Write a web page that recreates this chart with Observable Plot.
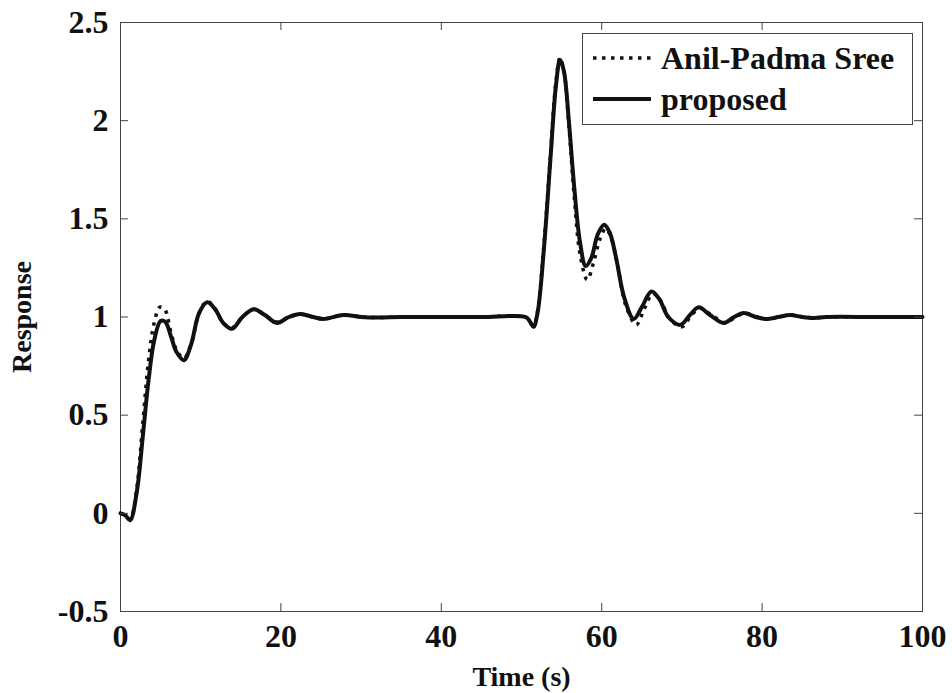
<!DOCTYPE html>
<html>
<head>
<meta charset="utf-8">
<script src="https://cdn.jsdelivr.net/npm/d3@7"></script>
<script src="https://cdn.jsdelivr.net/npm/@observablehq/plot@0.6"></script>
<style>
  html, body { margin: 0; padding: 0; background: #fff; }
  #chart { width: 952px; height: 693px; }
</style>
</head>
<body>
<div id="chart"></div>
<script>
// Step response: time samples (s) and response values for each controller
const proposedT = [0, 0.6, 1.2, 2.0, 2.8, 3.5, 4.2, 5.0, 5.6, 6.3, 7.0, 7.9, 8.8, 9.8, 10.8, 11.8, 12.8, 13.9, 15.2, 16.6, 18.0, 19.5, 21.0, 22.4, 24.0, 25.3, 27.8, 30.0, 32.0, 35.0, 40.0, 45.0,
  50.5, 51.0, 51.5, 52.0, 52.8, 53.6, 54.3, 54.8, 55.3, 55.9, 56.6, 57.3, 58.0, 58.7, 59.5, 60.3, 61.0, 61.8, 62.8, 64.0, 65.0, 66.2, 67.2, 68.3, 69.8, 71.0, 72.1, 73.5, 75.2, 76.5, 77.7, 79.2, 80.6, 82.0, 83.5, 85.0, 86.5, 88.0, 94.0, 100];
const proposedY = [0, -0.01, -0.035, 0.1, 0.4, 0.68, 0.88, 0.98, 0.975, 0.9, 0.82, 0.78, 0.86, 1.02, 1.075, 1.04, 0.97, 0.94, 1.0, 1.04, 1.01, 0.97, 1.0, 1.015, 1.0, 0.99, 1.01, 1.0, 0.997, 1.0, 1.0, 1.0,
  1.0, 0.98, 0.95, 1.02, 1.35, 1.8, 2.18, 2.31, 2.25, 2.0, 1.65, 1.38, 1.26, 1.3, 1.42, 1.47, 1.43, 1.3, 1.1, 0.99, 1.05, 1.13, 1.09, 1.0, 0.96, 1.01, 1.05, 1.01, 0.97, 1.0, 1.02, 1.0, 0.99, 1.0, 1.01, 1.0, 0.995, 1.0, 1.0, 1.0];

const anilT = [0, 0.6, 1.2, 2.0, 2.8, 3.5, 4.2, 4.9, 5.5, 6.3, 7.0, 7.9, 8.8, 9.8, 10.8, 11.8, 12.8, 13.9, 15.2, 16.6, 18.0, 19.5, 21.0, 22.4, 24.0, 25.3, 27.8, 30.0, 32.0, 35.0, 40.0, 45.0,
  50.5, 51.0, 51.5, 52.0, 52.8, 53.6, 54.3, 54.8, 55.3, 55.9, 56.6, 57.3, 58.2, 59.0, 59.8, 60.5, 61.2, 62.0, 63.0, 64.3, 65.3, 66.4, 67.4, 68.5, 70.0, 71.2, 72.3, 73.7, 75.4, 76.7, 77.9, 79.4, 80.8, 82.2, 83.7, 85.2, 86.7, 88.0, 94.0, 100];
const anilY = [0, -0.01, -0.03, 0.12, 0.47, 0.78, 0.97, 1.05, 1.04, 0.92, 0.83, 0.79, 0.86, 1.02, 1.08, 1.04, 0.97, 0.945, 1.0, 1.04, 1.01, 0.975, 1.0, 1.015, 1.0, 0.99, 1.01, 1.0, 0.997, 1.0, 1.0, 1.0,
  1.0, 0.98, 0.955, 1.03, 1.37, 1.82, 2.2, 2.32, 2.25, 1.98, 1.6, 1.32, 1.19, 1.28, 1.4, 1.45, 1.4, 1.26, 1.06, 0.96, 1.04, 1.12, 1.08, 0.99, 0.95, 1.01, 1.045, 1.01, 0.97, 1.0, 1.02, 1.0, 0.99, 1.0, 1.01, 1.0, 0.995, 1.0, 1.0, 1.0];

const xTicks = [0, 20, 40, 60, 80, 100];
const yTicks = [-0.5, 0, 0.5, 1, 1.5, 2, 2.5];
const seriesNames = ["Anil-Padma Sree", "proposed"];

const proposed = proposedT.map((t, i) => ({t, v: proposedY[i]}));
const anil = anilT.map((t, i) => ({t, v: anilY[i]}));

const W = 952, H = 693;
const mL = 120, mR = 30, mT = 22, mB = 82;
const frameW = W - mL - mR, frameH = H - mT - mB;
const tickLen = 8;
const ink = "#111";
const axisInk = "#444";
const font = "'Liberation Serif', 'Times New Roman', serif";

const chart = Plot.plot({
  width: W,
  height: H,
  marginLeft: mL,
  marginRight: mR,
  marginTop: mT,
  marginBottom: mB,
  style: {fontFamily: font, fontWeight: "bold", color: ink, background: "white"},
  x: {domain: [0, 100]},
  y: {domain: [-0.5, 2.5]},
  marks: [
    Plot.frame({stroke: axisInk, strokeWidth: 1}),
    Plot.line(anil, {x: "t", y: "v", stroke: ink, strokeWidth: 3.5, strokeDasharray: "3.5,5.5", strokeLinecap: "butt", curve: "catmull-rom"}),
    Plot.line(proposed, {x: "t", y: "v", stroke: ink, strokeWidth: 4, curve: "catmull-rom"}),
    // inward ticks on all four sides
    Plot.ruleX(xTicks, {x: d => d, insetTop: frameH - tickLen, stroke: axisInk}),
    Plot.ruleX(xTicks, {x: d => d, insetBottom: frameH - tickLen, stroke: axisInk}),
    Plot.ruleY(yTicks, {y: d => d, insetRight: frameW - tickLen, stroke: axisInk}),
    Plot.ruleY(yTicks, {y: d => d, insetLeft: frameW - tickLen, stroke: axisInk}),
    Plot.axisX(xTicks, {tickSize: 0, tickPadding: 13, fontSize: 32, fontWeight: "bold", fill: ink, label: null, tickFormat: d => String(d)}),
    Plot.axisY(yTicks, {tickSize: 0, tickPadding: 12, fontSize: 32, fontWeight: "bold", fill: ink, label: null, tickFormat: d => String(d)}),
    Plot.text(["Time (s)"], {text: d => d, frameAnchor: "bottom", dy: 55, lineAnchor: "top", fontSize: 28, fontWeight: "bold", fill: ink}),
    Plot.text(["Response"], {text: d => d, frameAnchor: "left", dx: -109, rotate: -90, lineAnchor: "top", textAnchor: "middle", fontSize: 28, fontWeight: "bold", fill: ink})
  ]
});

// legend box in the upper right of the axes
const svg = d3.select(chart);
const lg = svg.append("g")
  .attr("font-family", font).attr("font-weight", "bold").attr("font-size", 32)
  .attr("text-anchor", "start").attr("fill", ink);
lg.append("rect").attr("x", 582.5).attr("y", 33.5).attr("width", 330).attr("height", 91)
  .attr("fill", "white").attr("stroke", axisInk).attr("stroke-width", 1);
const rows = [
  {name: seriesNames[0], dash: "3.5,5.5", width: 3.5, y: 58},
  {name: seriesNames[1], dash: null, width: 4, y: 99}
];
rows.forEach(r => {
  lg.append("line").attr("x1", 593).attr("x2", 651).attr("y1", r.y).attr("y2", r.y)
    .attr("stroke", ink).attr("stroke-width", r.width)
    .attr("stroke-dasharray", r.dash).attr("stroke-linecap", "butt");
  lg.append("text").attr("x", 661).attr("y", r.y + 11).attr("text-anchor", "start").text(r.name);
});

document.getElementById("chart").appendChild(chart);
</script>
</body>
</html>
